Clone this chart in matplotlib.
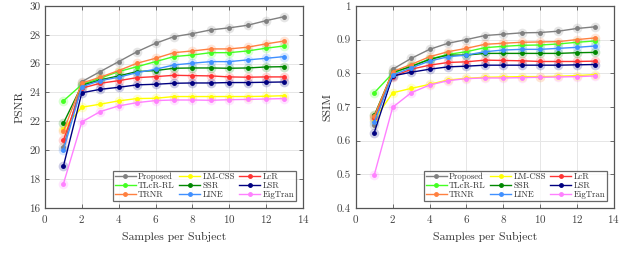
import matplotlib
matplotlib.use("Agg")
import matplotlib.pyplot as plt

plt.rcParams['font.family'] = ['cmr10', 'DejaVu Serif']
plt.rcParams['axes.formatter.use_mathtext'] = True
plt.rcParams['mathtext.fontset'] = 'cm'

samples = [1, 2, 3, 4, 5, 6, 7, 8, 9, 10, 11, 12, 13]

methods = ['Proposed', 'LM-CSS', 'LcR', 'TLcR-RL', 'SSR', 'LSR', 'TRNR', 'LINE', 'EigTran']
colors = ['#808080', '#ffff00', '#ff3333', '#44ff22', '#008800', '#000080',
          '#ff8040', '#4090ff', '#ff80ff']

# PSNR curves
psnr_proposed = [20.25, 24.75, 25.45, 26.14, 26.83, 27.41, 27.87, 28.08, 28.34, 28.48, 28.66, 28.98, 29.26]
psnr_lmcss = [21.45, 22.98, 23.19, 23.42, 23.58, 23.6, 23.72, 23.72, 23.72, 23.72, 23.72, 23.74, 23.78]
psnr_lcr = [20.7, 24.3, 24.64, 24.82, 25.03, 25.1, 25.19, 25.17, 25.15, 25.08, 25.06, 25.08, 25.08]
psnr_tlcr = [23.42, 24.55, 24.99, 25.45, 25.79, 26.14, 26.49, 26.6, 26.76, 26.76, 26.88, 27.07, 27.23]
psnr_ssr = [21.87, 24.5, 24.87, 25.15, 25.45, 25.52, 25.68, 25.7, 25.7, 25.68, 25.7, 25.77, 25.79]
psnr_lsr = [18.9, 23.98, 24.22, 24.36, 24.53, 24.57, 24.64, 24.66, 24.66, 24.69, 24.69, 24.71, 24.73]
psnr_trnr = [21.3, 24.65, 25.06, 25.52, 26.03, 26.37, 26.76, 26.88, 27.02, 27.02, 27.14, 27.37, 27.57]
psnr_line = [20.0, 24.4, 24.82, 25.06, 25.38, 25.61, 25.91, 26.03, 26.14, 26.14, 26.26, 26.37, 26.49]
psnr_eig = [17.67, 21.96, 22.68, 23.07, 23.3, 23.44, 23.48, 23.48, 23.46, 23.5, 23.52, 23.55, 23.58]

# SSIM curves
ssim_proposed = [0.646, 0.812, 0.844, 0.871, 0.889, 0.9, 0.912, 0.916, 0.92, 0.921, 0.925, 0.933, 0.938]
ssim_lmcss = [0.662, 0.742, 0.755, 0.767, 0.78, 0.785, 0.788, 0.789, 0.79, 0.79, 0.791, 0.793, 0.796]
ssim_lcr = [0.668, 0.79, 0.812, 0.824, 0.832, 0.834, 0.839, 0.838, 0.837, 0.835, 0.835, 0.835, 0.836]
ssim_tlcr = [0.742, 0.8, 0.821, 0.842, 0.856, 0.864, 0.876, 0.88, 0.883, 0.884, 0.887, 0.892, 0.896]
ssim_ssr = [0.675, 0.803, 0.82, 0.841, 0.854, 0.854, 0.859, 0.859, 0.859, 0.859, 0.859, 0.861, 0.862]
ssim_lsr = [0.624, 0.792, 0.803, 0.812, 0.819, 0.821, 0.824, 0.824, 0.824, 0.824, 0.824, 0.825, 0.826]
ssim_trnr = [0.672, 0.805, 0.826, 0.849, 0.864, 0.874, 0.886, 0.889, 0.892, 0.893, 0.894, 0.9, 0.905]
ssim_line = [0.655, 0.795, 0.816, 0.836, 0.849, 0.854, 0.864, 0.869, 0.871, 0.871, 0.874, 0.877, 0.881]
ssim_eig = [0.498, 0.699, 0.742, 0.765, 0.778, 0.784, 0.786, 0.786, 0.787, 0.788, 0.789, 0.79, 0.792]

psnr = [psnr_proposed, psnr_lmcss, psnr_lcr, psnr_tlcr, psnr_ssr, psnr_lsr, psnr_trnr, psnr_line, psnr_eig]
ssim = [ssim_proposed, ssim_lmcss, ssim_lcr, ssim_tlcr, ssim_ssr, ssim_lsr, ssim_trnr, ssim_line, ssim_eig]

fig = plt.figure(figsize=(6.4, 2.69), dpi=100)
ax1 = fig.add_axes([0.0703, 0.227, 0.403, 0.751])
ax2 = fig.add_axes([0.556, 0.227, 0.403, 0.751])

edge = '#555555'


def draw(ax, data, ylim, yticks, ylabel, ticklabels):
    handles = []
    for name, col, ys in zip(methods, colors, data):
        ax.plot(samples, ys, 'o', color=col, ms=7, alpha=0.2, mec='none', zorder=2)
        h, = ax.plot(samples, ys, '-o', color=col, lw=1.0, ms=2.5, label=name, zorder=3)
        handles.append(h)
    ax.set_xlim(0, 14)
    ax.set_ylim(*ylim)
    ax.set_xticks(range(0, 15, 2))
    ax.set_yticks(yticks)
    ax.set_yticklabels(ticklabels)
    ax.grid(True, color='#e6e6e6', lw=0.7)
    ax.set_axisbelow(True)
    for s in ax.spines.values():
        s.set_color(edge)
        s.set_linewidth(0.9)
    ax.tick_params(direction='in', top=True, right=True, length=3, width=0.6,
                   colors=edge, labelsize=8, labelcolor='#444444')
    ax.set_xlabel('Samples per Subject', fontsize=8.5, color='#333333', labelpad=5)
    ax.set_ylabel(ylabel, fontsize=8.5, color='#333333', labelpad=3)
    # legend filled row by row like the original
    order = [0, 3, 6, 1, 4, 7, 2, 5, 8]
    leg = ax.legend([handles[i] for i in order], [methods[i] for i in order],
                    ncol=3, loc='lower right', fontsize=6.3, frameon=True, fancybox=False,
                    edgecolor='#444444', borderpad=0.2, labelspacing=0.1,
                    handlelength=2.4, handletextpad=0.25, columnspacing=0.5,
                    borderaxespad=0.2, bbox_to_anchor=(0.98, 0.025))
    leg.get_frame().set_linewidth(0.9)
    for t in leg.get_texts():
        t.set_color('#333333')


draw(ax1, psnr, (16, 30), range(16, 31, 2), 'PSNR', [str(v) for v in range(16, 31, 2)])
draw(ax2, ssim, (0.4, 1.0), [0.4, 0.5, 0.6, 0.7, 0.8, 0.9, 1.0], 'SSIM',
     ['0.4', '0.5', '0.6', '0.7', '0.8', '0.9', '1'])

fig.savefig('out.png', dpi=100)
